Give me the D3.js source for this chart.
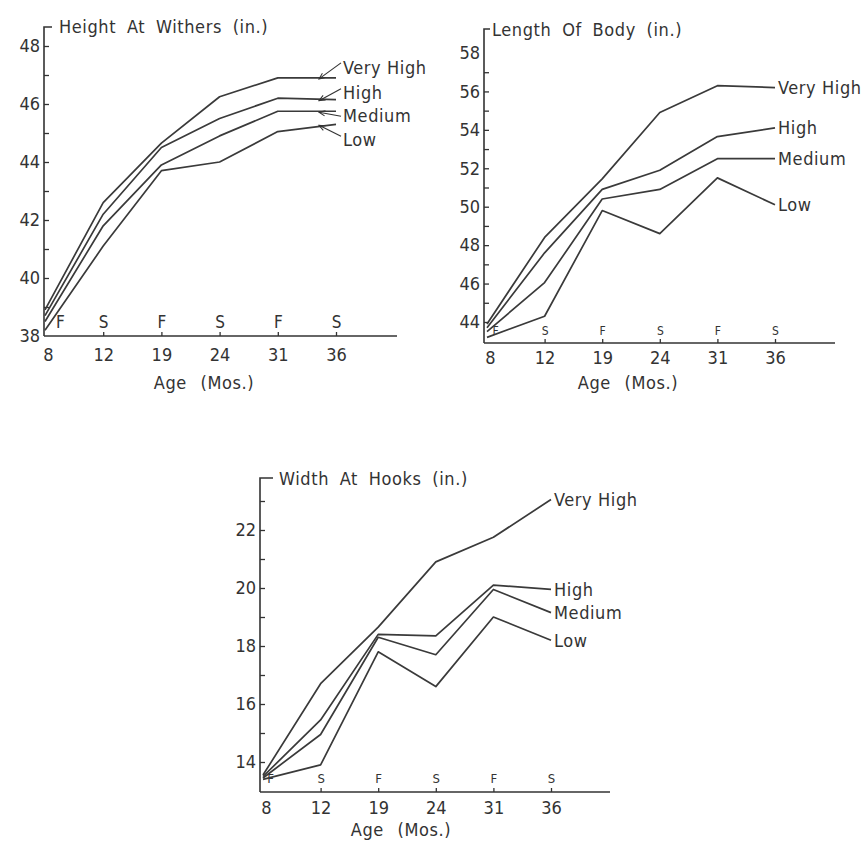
<!DOCTYPE html>
<html>
<head>
<meta charset="utf-8">
<script src="https://cdn.jsdelivr.net/npm/d3@7"></script>
<style>
  body { margin: 0; background: #ffffff; }
  svg text { font-family: "DejaVu Sans Condensed", "DejaVu Sans", sans-serif; font-stretch: condensed; fill: #333; }
</style>
</head>
<body>
<div id="chart"></div>
<script>
var ages = ["8", "12", "19", "24", "31", "36"];      // age in months
var seasons = ["F", "S", "F", "S", "F", "S"];       // fall / spring
var groups = ["Very High", "High", "Medium", "Low"];

// height at withers (in.)
var withersVeryHigh = [38.9, 42.6, 44.65, 46.25, 46.9, 46.9];
var withersHigh = [38.7, 42.2, 44.5, 45.5, 46.2, 46.15];
var withersMedium = [38.5, 41.8, 43.9, 44.9, 45.75, 45.75];
var withersLow = [38.2, 41.1, 43.7, 44.0, 45.05, 45.3];

// length of body (in.)
var lengthVeryHigh = [43.9, 48.4, 51.45, 54.9, 56.3, 56.2];
var lengthHigh = [43.7, 47.6, 50.9, 51.9, 53.65, 54.1];
var lengthMedium = [43.5, 46.05, 50.4, 50.9, 52.5, 52.5];
var lengthLow = [43.2, 44.3, 49.8, 48.6, 51.5, 50.1];

// width at hooks (in.)
var hooksVeryHigh = [13.55, 16.7, 18.65, 20.9, 21.75, 23.05];
var hooksHigh = [13.5, 15.45, 18.4, 18.35, 20.1, 19.95];
var hooksMedium = [13.45, 14.95, 18.3, 17.7, 19.95, 19.15];
var hooksLow = [13.4, 13.9, 17.8, 16.6, 19.0, 18.2];

var withersTicks = [38, 40, 42, 44, 46, 48];
var lengthTicks = [44, 46, 48, 50, 52, 54, 56, 58];
var hooksTicks = [14, 16, 18, 20, 22];

var svg = d3.select("#chart")
    .append("svg")
    .attr("width", 862)
    .attr("height", 842);

// small open arrowhead for the leader lines
svg.append("defs").append("marker")
    .attr("id", "arrow")
    .attr("viewBox", "-8 -4 9 8")
    .attr("refX", 0)
    .attr("refY", 0)
    .attr("markerWidth", 8)
    .attr("markerHeight", 7)
    .attr("markerUnits", "userSpaceOnUse")
    .attr("orient", "auto")
    .append("path")
    .attr("d", "M-7,-3L0,0L-7,3")
    .attr("fill", "none")
    .attr("stroke", "#333")
    .attr("stroke-width", 1.2);

function drawPanel(p) {
    var x = d3.scalePoint().domain(ages).range([p.x8, p.x36]);
    var y = d3.scaleLinear().domain(p.yDomain).range(p.yRange);
    var g = svg.append("g");

    // y axis line with the little hook at the top
    g.append("path")
        .attr("d", "M" + (p.axisX + p.hook) + "," + p.top + "H" + p.axisX + "V" + p.base)
        .attr("fill", "none")
        .attr("stroke", "#333")
        .attr("stroke-width", 1.6);

    g.append("text")
        .attr("x", p.titleX)
        .attr("y", p.titleY)
        .style("font-size", "18px")
        .style("letter-spacing", "0.6px")
        .style("word-spacing", "5px")
        .text(p.title);

    // tick marks, majors and minors, pointing inward
    var all = d3.range(p.yDomain[0], p.tickTop + 1, 1).filter(function (v) { return y(v) < p.base - 2; });
    var tickAxis = g.append("g")
        .attr("transform", "translate(" + p.axisX + ",0)")
        .call(d3.axisRight(y).tickValues(all).tickSize(5).tickFormat(""));
    tickAxis.select(".domain").remove();
    tickAxis.selectAll("line").attr("stroke", "#333").attr("stroke-width", 1.3);

    var labelAxis = g.append("g")
        .attr("transform", "translate(" + p.axisX + ",0)")
        .call(d3.axisLeft(y).tickValues(p.ticks).tickSize(0).tickPadding(4));
    labelAxis.select(".domain").remove();
    labelAxis.selectAll("text").style("font-size", "18px").attr("font-family", null);

    // x axis
    g.append("line")
        .attr("x1", p.axisX).attr("x2", p.axisEnd)
        .attr("y1", p.base).attr("y2", p.base)
        .attr("stroke", "#333")
        .attr("stroke-width", 1.6);

    var seasonAxis = g.append("g")
        .attr("transform", "translate(0," + p.base + ")")
        .call(d3.axisTop(x).tickSize(4).tickPadding(p.letterPad).tickFormat(function (d, i) { return seasons[i]; }));
    seasonAxis.select(".domain").remove();
    seasonAxis.selectAll("line").attr("stroke", "#333").attr("stroke-width", 1.3);
    seasonAxis.selectAll("text")
        .attr("font-family", null)
        .style("font-size", p.letterSize + "px")
        .attr("dx", function (d, i) { return i == 0 ? p.firstLetterDx : 0; });
    seasonAxis.select(".tick line").remove(); // first tick sits on the y axis

    var ageAxis = g.append("g")
        .attr("transform", "translate(0," + p.base + ")")
        .call(d3.axisBottom(x).tickSize(0));
    ageAxis.select(".domain").remove();
    ageAxis.selectAll("text")
        .attr("font-family", null)
        .attr("y", p.numY)
        .attr("dy", null)
        .attr("dx", function (d, i) { return i == 0 ? 3 : 0; })
        .style("font-size", "18px");

    g.append("text")
        .attr("x", p.ageX)
        .attr("y", p.base + p.ageY)
        .attr("text-anchor", "middle")
        .style("font-size", "18px")
        .style("letter-spacing", "0.6px")
        .style("word-spacing", "8px")
        .text("Age (Mos.)");

    var line = d3.line()
        .x(function (d, i) { return x(ages[i]); })
        .y(function (d) { return y(d); });

    g.append("g")
        .selectAll("path")
        .data(p.series)
        .enter()
        .append("path")
        .attr("d", line)
        .attr("fill", "none")
        .attr("stroke", "#3a3a3a")
        .attr("stroke-width", 1.7)
        .attr("stroke-linejoin", "round");

    // group names at the end of each line
    var lab = g.append("g")
        .selectAll("g")
        .data(p.series)
        .enter()
        .append("g");

    lab.append("text")
        .attr("x", p.x36 + p.labelDx)
        .attr("y", function (d, i) { return y(d[d.length - 1]) + p.labelShift[i]; })
        .attr("dy", "0.35em")
        .style("font-size", "18px")
        .style("letter-spacing", "0.6px")
        .text(function (d, i) { return groups[i]; });

    if (p.leaders) {
        lab.append("line")
            .attr("x1", p.x36 + p.labelDx - 2)
            .attr("y1", function (d, i) { return y(d[d.length - 1]) + p.labelShift[i] + p.leaderDy[i]; })
            .attr("x2", p.x36 - 17)
            .attr("y2", function (d) { return y(d[d.length - 1]) + 1; })
            .attr("stroke", "#333")
            .attr("stroke-width", 1.1)
            .attr("marker-end", "url(#arrow)");
    }
}

drawPanel({
    title: "Height At Withers (in.)",
    series: [withersVeryHigh, withersHigh, withersMedium, withersLow],
    ticks: withersTicks,
    yDomain: [38, 48], yRange: [336, 46], tickTop: 48,
    axisX: 44, base: 336, top: 27, hook: 8, axisEnd: 397,
    titleX: 59, titleY: 33,
    x8: 45, x36: 336,
    letterSize: 17, letterPad: 4, firstLetterDx: 15,
    numY: 25, ageX: 204, ageY: 53,
    labelDx: 7, labelShift: [-10, -7, 4, 15], leaderDy: [-5, -4, 1, -3],
    leaders: true
});

drawPanel({
    title: "Length Of Body (in.)",
    series: [lengthVeryHigh, lengthHigh, lengthMedium, lengthLow],
    ticks: lengthTicks,
    yDomain: [43, 58], yRange: [341.2, 53], tickTop: 57,
    axisX: 484, base: 343, top: 29, hook: 6, axisEnd: 835,
    titleX: 492, titleY: 36,
    x8: 487, x36: 775,
    letterSize: 12, letterPad: 4, firstLetterDx: 8,
    numY: 21, ageX: 628, ageY: 46,
    labelDx: 3, labelShift: [0, 0, 0, 0],
    leaders: false
});

drawPanel({
    title: "Width At Hooks (in.)",
    series: [hooksVeryHigh, hooksHigh, hooksMedium, hooksLow],
    ticks: hooksTicks,
    yDomain: [13, 22], yRange: [791, 530], tickTop: 23,
    axisX: 260, base: 792, top: 478, hook: 13, axisEnd: 610,
    titleX: 279, titleY: 485,
    x8: 263, x36: 551,
    letterSize: 13, letterPad: 5, firstLetterDx: 7,
    numY: 22, ageX: 401, ageY: 44,
    labelDx: 3, labelShift: [0, 0, 0, 0],
    leaders: false
});
</script>
</body>
</html>
